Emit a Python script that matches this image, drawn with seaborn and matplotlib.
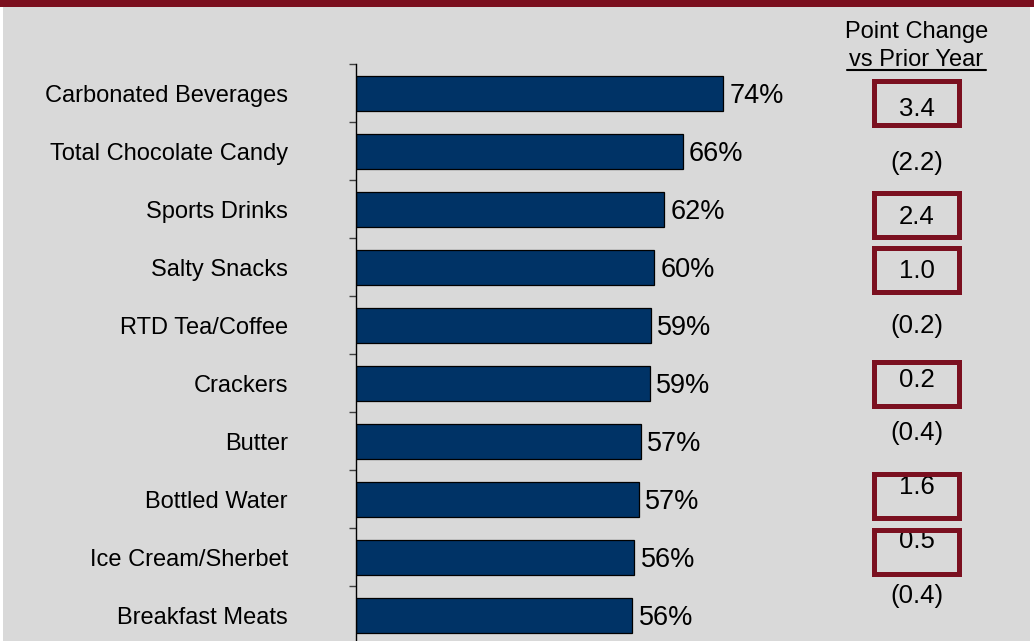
import matplotlib
matplotlib.use("Agg")
import matplotlib.pyplot as plt
import seaborn as sns
import pandas as pd
from matplotlib.patches import Rectangle
from matplotlib.lines import Line2D

# ---- data ----
categories = ["Carbonated Beverages", "Total Chocolate Candy", "Sports Drinks",
              "Salty Snacks", "RTD Tea/Coffee", "Crackers", "Butter",
              "Bottled Water", "Ice Cream/Sherbet", "Breakfast Meats"]
values = [74.0, 65.9, 62.1, 60.1, 59.4, 59.2, 57.4, 57.0, 56.1, 55.7]
changes = [3.4, -2.2, 2.4, 1.0, -0.2, 0.2, -0.4, 1.6, 0.5, -0.4]
col_header = ["Point Change", "vs Prior Year"]

# ---- layout (pixels) ----
W, H = 1034, 641
change_baselines = [116, 170, 224, 278, 333, 387, 440, 494, 548, 603]
box_tops = {0: 78, 2: 190, 3: 245, 5: 359, 7: 471, 8: 527}
box_h = 49.5
box_x0, box_x1 = 871, 961
col_x = 916.5

BAR = "#003366"
RED = "#7B1020"
GRAY = "#D9D9D9"

sns.set_theme(style="white")
plt.rcParams["font.family"] = ["Liberation Sans", "DejaVu Sans"]

fig = plt.figure(figsize=(W / 100, H / 100), dpi=100)
fig.patch.set_facecolor("white")

def fx(x):
    return x / W

def fy(y):
    return 1 - y / H

# background panel and banner
fig.patches.append(Rectangle((fx(3), 0), fx(1030) - fx(3), fy(7), transform=fig.transFigure,
                             facecolor=GRAY, edgecolor="none", zorder=-10))
fig.patches.append(Rectangle((0, fy(7)), 1, 7 / H, transform=fig.transFigure,
                             facecolor="#7B0F1E", edgecolor="none", zorder=-10))

ax = fig.add_axes([fx(356), fy(644.3), fx(852) - fx(356), (644.3 - 64.3) / H])
ax.set_facecolor("none")
ax.set_zorder(1)

df = pd.DataFrame({"category": categories, "value": values})
sns.barplot(data=df, y="category", x="value", orient="h", color=BAR,
            saturation=1, edgecolor="black", linewidth=0.9, width=0.6, ax=ax)

ax.set_xlim(0, 100)
ax.set_ylim(len(categories) - 0.5, -0.5)
ax.set_xlabel("")
ax.set_ylabel("")
ax.xaxis.set_visible(False)
for s in ["top", "right", "bottom"]:
    ax.spines[s].set_visible(False)
ax.spines["left"].set_color("black")
ax.spines["left"].set_linewidth(1.0)

ax.set_yticks(range(len(categories)))
ax.set_yticklabels(categories, fontsize=17, color="black")
ax.set_yticks([i - 0.5 for i in range(len(categories) + 1)], minor=True)
ax.tick_params(axis="y", which="major", length=0, pad=49)
ax.tick_params(axis="y", which="minor", length=5, width=1, color="#404040", left=True)

labels = ax.bar_label(ax.containers[0], labels=[f"{v:.0f}%" for v in values],
                      padding=4.5, fontsize=19.5, color="black")
for t in labels:
    t.set_va("center_baseline")

# right column header
fig.text(fx(col_x), fy(38), col_header[0], ha="center", va="baseline", fontsize=17, color="black")
fig.text(fx(col_x), fy(66.5), col_header[1], ha="center", va="baseline", fontsize=17, color="black")
fig.lines.append(Line2D([fx(847), fx(986)], [fy(69.5), fy(69.5)], transform=fig.transFigure,
                        color="black", linewidth=1.5))

# change values
for i, c in enumerate(changes):
    label = f"{c:.1f}" if c >= 0 else f"({abs(c):.1f})"
    fig.text(fx(col_x), fy(change_baselines[i]), label, ha="center", va="baseline",
             fontsize=18.5, color="black", zorder=2)

# boxes around positive changes
lw_px = 5
for i, c in enumerate(changes):
    if c > 0 and i in box_tops:
        top = box_tops[i] + lw_px / 2
        bot = box_tops[i] + box_h - lw_px / 2
        fig.patches.append(Rectangle((fx(box_x0 + lw_px / 2), fy(bot)),
                                     fx(box_x1 - box_x0 - lw_px), (bot - top) / H,
                                     transform=fig.transFigure, facecolor="none",
                                     edgecolor=RED, linewidth=lw_px * 0.72, zorder=5))

fig.savefig("out.png", dpi=100, facecolor=fig.get_facecolor())
